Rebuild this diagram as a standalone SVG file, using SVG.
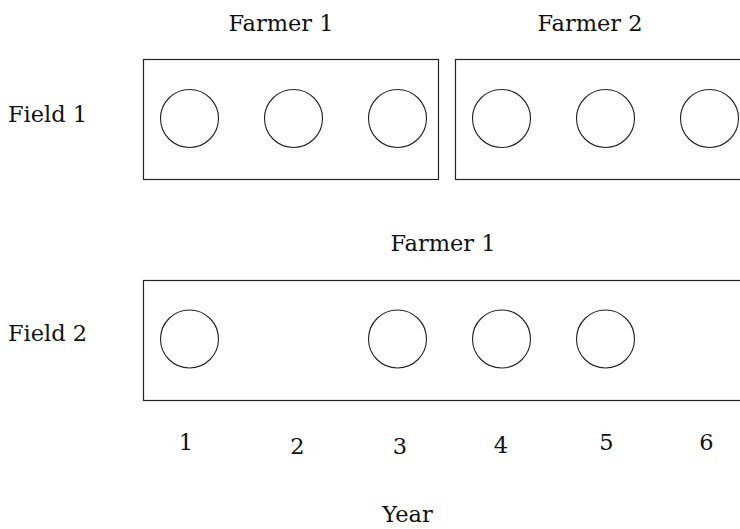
<svg xmlns="http://www.w3.org/2000/svg" width="740" height="529" viewBox="0 0 740 529">
<style>
.box{fill:none;stroke:#222;stroke-width:1.2}
.plot{fill:none;stroke:#222;stroke-width:1.1}
text{font-family:"DejaVu Serif","Liberation Serif",serif;font-size:22.5px;fill:#111}
.c{text-anchor:middle}
</style>
<rect width="740" height="529" fill="#fff"/>
<g id="field1-farmer1">
<rect class="box" x="143.5" y="59.5" width="295" height="120"/>
<circle class="plot" cx="189.5" cy="118.5" r="29"/>
<circle class="plot" cx="293.5" cy="118.5" r="29"/>
<circle class="plot" cx="397.5" cy="118.5" r="29"/>
<text class="c" x="281" y="31">Farmer 1</text>
</g>
<g id="field1-farmer2">
<rect class="box" x="455.5" y="59.5" width="300" height="120"/>
<circle class="plot" cx="501.5" cy="118.5" r="29"/>
<circle class="plot" cx="605.5" cy="118.5" r="29"/>
<circle class="plot" cx="709.5" cy="118.5" r="29"/>
<text class="c" x="590" y="31">Farmer 2</text>
</g>
<g id="field2-farmer1">
<rect class="box" x="143.5" y="280.5" width="610" height="120"/>
<circle class="plot" cx="189.5" cy="339" r="29"/>
<circle class="plot" cx="397.5" cy="339" r="29"/>
<circle class="plot" cx="501.5" cy="339" r="29"/>
<circle class="plot" cx="605.5" cy="339" r="29"/>
<text class="c" x="443" y="251">Farmer 1</text>
</g>
<g id="row-labels">
<text x="8" y="122">Field 1</text>
<text x="8" y="341">Field 2</text>
</g>
<g id="year-axis">
<text class="c" x="186" y="450">1</text>
<text class="c" x="297.5" y="454">2</text>
<text class="c" x="400" y="454">3</text>
<text class="c" x="501" y="453">4</text>
<text class="c" x="606.5" y="450">5</text>
<text class="c" x="706.5" y="450">6</text>
<text class="c" x="407.5" y="522">Year</text>
</g>
<g id="connectors"></g>
</svg>
